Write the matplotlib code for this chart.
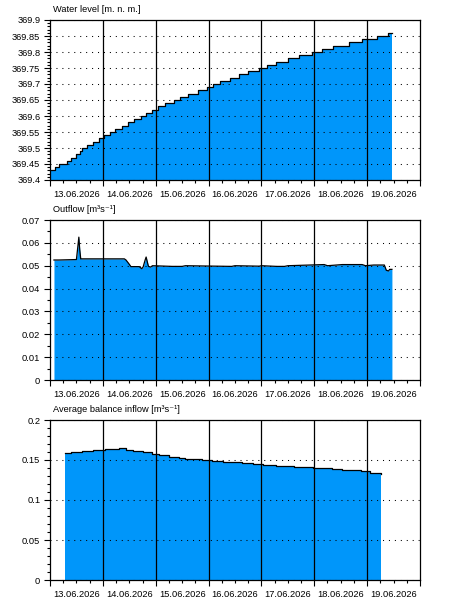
import matplotlib
matplotlib.use("Agg")
import matplotlib.pyplot as plt
from matplotlib.ticker import MultipleLocator, FuncFormatter, FixedLocator
import numpy as np

plt.rcParams['font.family'] = ['Liberation Sans', 'DejaVu Sans']

# ---- data (x in hours since 13.06.2026 00:00) ----
day_labels = ['13.06.2026', '14.06.2026', '15.06.2026', '16.06.2026',
              '17.06.2026', '18.06.2026', '19.06.2026']

level_hours = [0, 2.25, 4.2, 7.5, 9.75, 11.7, 13.5, 14.7, 16.8, 19.5, 22.05,
               24.3, 27.3, 29.7, 32.55, 35.55, 38.25, 41.25, 43.5, 46.5,
               49.2, 52.2, 56.25, 59.25, 62.55, 67.05, 71.25, 73.8, 77.25,
               81.75, 85.95, 90, 94.95, 98.7, 102.75, 108, 112.95, 118.95,
               123.45, 128.7, 135.75, 141.45, 148.5, 153.45, 155.25]
level_values = [369.43, 369.44, 369.45, 369.46, 369.47, 369.48, 369.49, 369.50,
                369.51, 369.52, 369.53, 369.54, 369.55, 369.56, 369.57, 369.58,
                369.59, 369.60, 369.61, 369.62, 369.63, 369.64, 369.65, 369.66,
                369.67, 369.68, 369.69, 369.70, 369.71, 369.72, 369.73, 369.74,
                369.75, 369.76, 369.77, 369.78, 369.79, 369.80, 369.81, 369.82,
                369.83, 369.84, 369.85, 369.86, 369.86]

outflow_hours = [1.8, 4.0, 12.0, 12.6, 13.1, 13.5, 13.95, 33.75, 34.5, 35.7,
                 36.75, 40.5, 41.7, 42.3, 43.2, 43.65, 44.1, 44.7, 45.75, 46.5,
                 55.5, 60.0, 61.5, 82.5, 84.0, 95.0, 96.0, 103.0, 106.5, 108.0,
                 124.5, 126.0, 132.75, 141.75, 143.25, 147.0, 151.8, 152.7,
                 153.75, 154.2, 155.25]
outflow_values = [0.0525, 0.0525, 0.0527, 0.058, 0.0625, 0.057, 0.053, 0.053,
                  0.0525, 0.051, 0.0496, 0.0496, 0.0487, 0.0495, 0.0525, 0.0538,
                  0.052, 0.0497, 0.0494, 0.050, 0.0497, 0.0497, 0.050, 0.0497,
                  0.050, 0.0498, 0.050, 0.0497, 0.0497, 0.050, 0.0505, 0.050,
                  0.0505, 0.0505, 0.050, 0.0503, 0.0503, 0.048, 0.0477, 0.0484,
                  0.0484]

inflow_hours = [6.75, 9.75, 14.7, 19.5, 24.75, 29.25, 31.5, 34.5, 37.5, 42.0,
                46.5, 49.5, 54.0, 58.5, 61.5, 69.0, 73.5, 78.75, 81.75, 87.0,
                92.25, 96.75, 102.75, 111.0, 119.25, 128.25, 132.75, 141.0,
                145.5, 150.3]
inflow_values = [0.1588, 0.1596, 0.161, 0.162, 0.1633, 0.164, 0.1646, 0.163,
                 0.1617, 0.1596, 0.158, 0.156, 0.154, 0.1525, 0.151, 0.150,
                 0.149, 0.148, 0.1475, 0.146, 0.145, 0.1437, 0.1425, 0.141,
                 0.140, 0.1387, 0.1375, 0.1358, 0.134, 0.1325]

titles = ['Water level [m. n. m.]', 'Outflow [m\u00b3s\u207b\u00b9]',
          'Average balance inflow [m\u00b3s\u207b\u00b9]']

FILL = '#0096fa'
W, H = 450, 610
fig = plt.figure(figsize=(W / 100, H / 100), dpi=100)

def make_ax(top_px, bottom_px):
    return fig.add_axes([50 / W, 1 - bottom_px / H, 370 / W, (bottom_px - top_px) / H])

axes = [make_ax(20, 180), make_ax(220, 380), make_ax(420, 580)]
ylims = [(369.4, 369.9), (0, 0.07), (0, 0.2)]
majors = [0.05, 0.01, 0.05]
minors = [0.01, 0.005, 0.01]

def yfmt(v, p):
    if abs(v) < 1e-9:
        return '0'
    return ('%.2f' % v).rstrip('0').rstrip('.')

datasets = [(level_hours, level_values, 'post'),
            (outflow_hours, outflow_values, None),
            (inflow_hours, inflow_values, 'post')]

def xfmt(v, p):
    h = int(round(v))
    if h % 24 == 12 and 0 <= h // 24 < len(day_labels):
        return day_labels[h // 24]
    return ''

for ax, (xs, ys, step), yl, mj, mn, title in zip(axes, datasets, ylims, majors, minors, titles):
    ax.set_xlim(0, 168)
    ax.set_ylim(*yl)
    base = yl[0]
    if step:
        ax.fill_between(xs, ys, base, step=step, color=FILL, linewidth=0, zorder=1)
        ax.step(xs, ys, where=step, color='black', linewidth=0.9, zorder=3)
    else:
        ax.fill_between(xs, ys, base, color=FILL, linewidth=0, zorder=1)
        ax.plot(xs, ys, color='black', linewidth=0.9, zorder=3)
    ax.yaxis.set_major_locator(MultipleLocator(mj))
    ax.yaxis.set_minor_locator(MultipleLocator(mn))
    ax.yaxis.set_major_formatter(FuncFormatter(yfmt))
    ax.grid(axis='y', which='major', color='black', linestyle=(0, (1, 4.7)),
            linewidth=0.75, zorder=2)
    for d in range(24, 168, 24):
        ax.axvline(d, color='black', linewidth=0.9, zorder=4)
    ax.xaxis.set_major_locator(MultipleLocator(24))
    ax.xaxis.set_major_formatter(FuncFormatter(lambda v, p: ''))
    ax.xaxis.set_minor_locator(FixedLocator(list(range(0, 169, 6))))
    ax.xaxis.set_minor_formatter(FuncFormatter(xfmt))
    ax.tick_params(axis='both', which='major', length=4, width=0.8, direction='out',
                   labelsize=6.7, colors='black', pad=3)
    ax.tick_params(axis='both', which='minor', length=2.5, width=0.8, direction='out',
                   labelsize=6.7, colors='black', pad=4)
    ax.tick_params(axis='x', which='minor', pad=4.5)
    for s in ax.spines.values():
        s.set_linewidth(0.9)
        s.set_zorder(5)
    ax.set_axisbelow(False)
    ax.annotate(title, xy=(0, 1), xycoords='axes fraction', xytext=(2, 4),
                textcoords='offset points', ha='left', va='bottom', fontsize=6.7)

fig.savefig('out.png', dpi=100)
